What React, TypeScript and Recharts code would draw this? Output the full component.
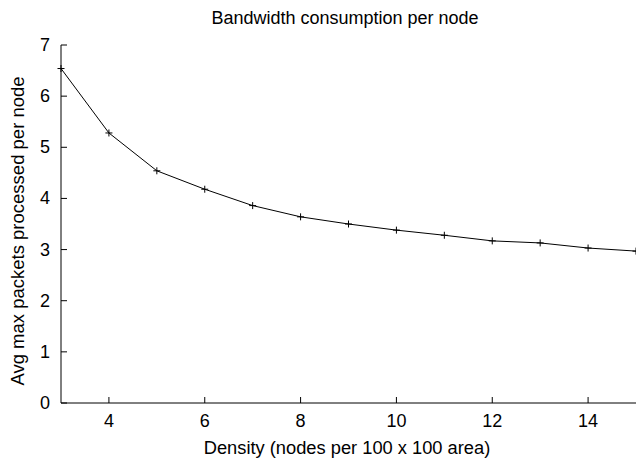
import React from 'react';
import { LineChart, Line, XAxis, YAxis } from 'recharts';

// density values (x) and avg max packets processed per node (y)
const densities = [3, 4, 5, 6, 7, 8, 9, 10, 11, 12, 13, 14, 15];
const packets = [6.54, 5.28, 4.54, 4.18, 3.86, 3.64, 3.5, 3.38, 3.28, 3.17, 3.13, 3.03, 2.97];
const xTicks = [4, 6, 8, 10, 12, 14];
const yTicks = [0, 1, 2, 3, 4, 5, 6, 7];

const data = densities.map((d, i) => ({ density: d, packets: packets[i] }));

const FONT = '"Liberation Sans", Arial, Helvetica, sans-serif';
const TICK_LEN = 6;

const BottomTick = ({ x, y, payload }: any) => (
  <g>
    <line x1={x} x2={x} y1={y} y2={y - TICK_LEN} stroke="#000" />
    <text x={x} y={y + 24} textAnchor="middle" fontSize={18} fontFamily={FONT} fill="#000">
      {payload.value}
    </text>
  </g>
);

const TopTick = ({ x, y }: any) => (
  <line x1={x} x2={x} y1={y} y2={y + TICK_LEN} stroke="#000" />
);

const LeftTick = ({ x, y, payload }: any) => (
  <g>
    <line x1={x} x2={x + TICK_LEN} y1={y} y2={y} stroke="#000" />
    <text x={x - 11} y={y + 6} textAnchor="end" fontSize={18} fontFamily={FONT} fill="#000">
      {payload.value}
    </text>
  </g>
);

const RightTick = ({ x, y }: any) => (
  <line x1={x} x2={x - TICK_LEN} y1={y} y2={y} stroke="#000" />
);

const PlusDot = (props: any) => {
  const { cx, cy, index } = props;
  return (
    <path
      key={`dot-${index}`}
      d={`M${cx - 3.5},${cy}h7M${cx},${cy - 3.5}v7`}
      stroke="#000"
      strokeWidth={1}
      fill="none"
    />
  );
};

export default function App() {
  return (
    <div style={{ position: 'absolute', left: 0, top: 0, width: 636, height: 459, background: '#fff', fontFamily: FONT }}>
      <LineChart width={636} height={459} data={data} margin={{ top: 45, right: 0, bottom: 0, left: 0 }}>
        <text x={345} y={24} textAnchor="middle" fontSize={18} fontFamily={FONT} fill="#000">
          Bandwidth consumption per node
        </text>
        <text
          x={24}
          y={231}
          transform="rotate(-90 24 231)"
          textAnchor="middle"
          fontSize={18.5}
          fontFamily={FONT}
          fill="#000"
        >
          Avg max packets processed per node
        </text>
        <text x={347} y={454} textAnchor="middle" fontSize={18.3} fontFamily={FONT} fill="#000">
          Density (nodes per 100 x 100 area)
        </text>
        <XAxis
          dataKey="density"
          type="number"
          domain={[3, 15]}
          ticks={xTicks}
          height={56}
          tickSize={0}
          tickMargin={0}
          tickLine={false}
          axisLine={{ stroke: '#000' }}
          tick={<BottomTick />}
          interval={0}
        />
        <XAxis
          xAxisId="top"
          orientation="top"
          dataKey="density"
          type="number"
          domain={[3, 15]}
          ticks={xTicks}
          height={0}
          tickSize={0}
          tickMargin={0}
          tickLine={false}
          axisLine={{ stroke: '#000' }}
          tick={<TopTick />}
          interval={0}
        />
        <YAxis
          type="number"
          domain={[0, 7]}
          ticks={yTicks}
          width={61}
          tickSize={0}
          tickMargin={0}
          tickLine={false}
          axisLine={{ stroke: '#000' }}
          tick={<LeftTick />}
          interval={0}
        />
        <YAxis
          yAxisId="right"
          orientation="right"
          type="number"
          domain={[0, 7]}
          ticks={yTicks}
          width={0}
          tickSize={0}
          tickMargin={0}
          tickLine={false}
          axisLine={{ stroke: '#000' }}
          tick={<RightTick />}
          interval={0}
        />
        <Line
          dataKey="packets"
          stroke="#000"
          strokeWidth={1}
          dot={PlusDot}
          activeDot={false}
          isAnimationActive={false}
        />
      </LineChart>
    </div>
  );
}
